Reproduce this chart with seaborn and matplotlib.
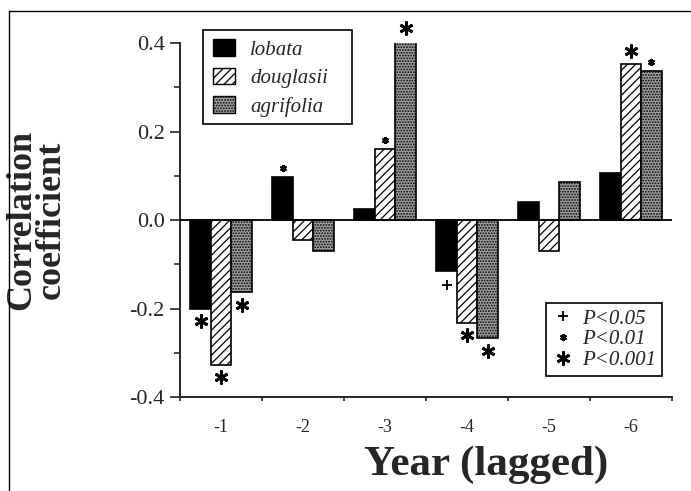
import numpy as np
import pandas as pd
import matplotlib
matplotlib.use('Agg')
import matplotlib.pyplot as plt
import seaborn as sns
from matplotlib.lines import Line2D
from matplotlib.patches import Patch, Rectangle
from matplotlib.transforms import offset_copy
from matplotlib.ticker import MultipleLocator, FormatStrFormatter

# ---- data ----
years = ['-1', '-2', '-3', '-4', '-5', '-6']
species = ['lobata', 'douglasii', 'agrifolia']
lobata = [-0.200, 0.097, 0.024, -0.116, 0.040, 0.106]
douglasii = [-0.327, -0.045, 0.160, -0.232, -0.070, 0.353]
agrifolia = [-0.163, -0.070, 0.406, -0.267, 0.086, 0.337]
# significance: '*' P<0.05, '**' P<0.01, '***' P<0.001
lobata_sig = ['***', '**', '', '*', '', '']
douglasii_sig = ['***', '', '**', '***', '', '***']
agrifolia_sig = ['***', '', '***', '***', '', '**']
sig_labels = ['P<0.05', 'P<0.01', 'P<0.001']

df = pd.DataFrame({
    'year': years * 3,
    'species': np.repeat(species, len(years)),
    'r': lobata + douglasii + agrifolia,
})

sns.set_style('ticks')
plt.rcParams['font.family'] = ['Liberation Serif', 'DejaVu Sans']
plt.rcParams['hatch.linewidth'] = 0.9

colors = ['black', 'white', '#a0a0a0']
hatches = ['', '////', '......']

fig = plt.figure(figsize=(6.91, 4.91), dpi=100)
ax = fig.add_axes([0.2605, 0.1914, 0.712, 0.721])
sns.barplot(data=df, x='year', y='r', hue='species', order=years,
            hue_order=species, palette=colors, width=0.75, edgecolor='black',
            linewidth=1.2, saturation=1, legend=False, errorbar=None, ax=ax)

for cont, h in zip(ax.containers, hatches):
    for bar in cont:
        bar.set_hatch(h)

# significance markers
styles = {
    '*': dict(marker='+', ms=7, mew=1.3, off=10),
    '**': dict(marker=(6, 2, 0), ms=5, mew=1.5, off=6.5),
    '***': dict(marker=(6, 2, 0), ms=10, mew=2.0, off=9),
}
for cont, sigs in zip(ax.containers, [lobata_sig, douglasii_sig, agrifolia_sig]):
    for bar, s in zip(cont, sigs):
        if not s:
            continue
        st = styles[s]
        x = bar.get_x() + bar.get_width() / 2
        val = bar.get_y() + bar.get_height()
        sign = 1 if bar.get_height() >= 0 else -1
        tr = offset_copy(ax.transData, fig=fig, x=0, y=sign * st['off'], units='points')
        ax.plot([x], [val], transform=tr, ls='', marker=st['marker'], ms=st['ms'],
                mew=st['mew'], color='black', clip_on=False)

ax.axhline(0, color='black', lw=1.3, zorder=3)

ax.set_ylim(-0.4, 0.4)
ax.set_yticks([-0.4, -0.2, 0.0, 0.2, 0.4])
ax.yaxis.set_major_formatter(FormatStrFormatter('%.1f'))
ax.yaxis.set_minor_locator(MultipleLocator(0.1))
ax.set_xlim(-0.5, 5.5)
ax.set_xticks(np.arange(-0.5, 6, 1), minor=True)
ax.tick_params(axis='x', which='major', length=0, pad=16, labelsize=13)
ax.tick_params(axis='x', which='minor', length=3, width=1.2, direction='out')
ax.tick_params(axis='y', which='major', length=7, width=1.2, pad=4, labelsize=16)
ax.tick_params(axis='y', which='minor', length=4.5, width=1.2)
sns.despine(ax=ax)
for sp in ['left', 'bottom']:
    ax.spines[sp].set_linewidth(1.4)

ax.set_ylabel('Correlation\ncoefficient', fontsize=26, fontweight='bold', linespacing=0.88)
ax.yaxis.set_label_coords(-0.228, 0.5)
ax.set_xlabel('Year (lagged)', fontsize=31, fontweight='bold')
ax.xaxis.set_label_coords(0.623, -0.138)

handles1 = [Patch(facecolor=c, edgecolor='black', hatch=h, label=s)
            for c, h, s in zip(colors, hatches, species)]
leg1 = ax.legend(handles=handles1, loc='upper left', bbox_to_anchor=(0.047, 1.037),
                 frameon=False, prop=dict(style='italic', size=15), handlelength=1.1,
                 handleheight=0.85, labelspacing=0.38, borderpad=0.45,
                 handletextpad=0.7, borderaxespad=0)
ax.add_artist(leg1)
# legend box (wider than the entries, as in the reference)
ax.add_patch(Rectangle((0.047, 0.772), 0.303, 0.265, transform=ax.transAxes,
                       fill=False, edgecolor='black', lw=1.2, clip_on=False, zorder=4))

handles2 = [Line2D([], [], ls='', color='black', marker=styles[k]['marker'],
                   ms=styles[k]['ms'], mew=styles[k]['mew']) for k in ['*', '**', '***']]
leg2 = ax.legend(handles2, sig_labels, loc='lower right', bbox_to_anchor=(0.98, 0.059),
                 frameon=True, fancybox=False, edgecolor='black', framealpha=1,
                 prop=dict(style='italic', size=15), handlelength=1.0,
                 handletextpad=0.4, labelspacing=0.05, borderpad=0.3, borderaxespad=0)
leg2.get_frame().set_linewidth(1.2)

# outer frame (top and left edges visible in the reference)
fig.add_artist(Line2D([9 / 691, 1], [1 - 11 / 491] * 2, transform=fig.transFigure,
                      color='black', lw=1))
fig.add_artist(Line2D([9 / 691] * 2, [0, 1 - 11 / 491], transform=fig.transFigure,
                      color='black', lw=1))

fig.savefig('out.png', dpi=100)
